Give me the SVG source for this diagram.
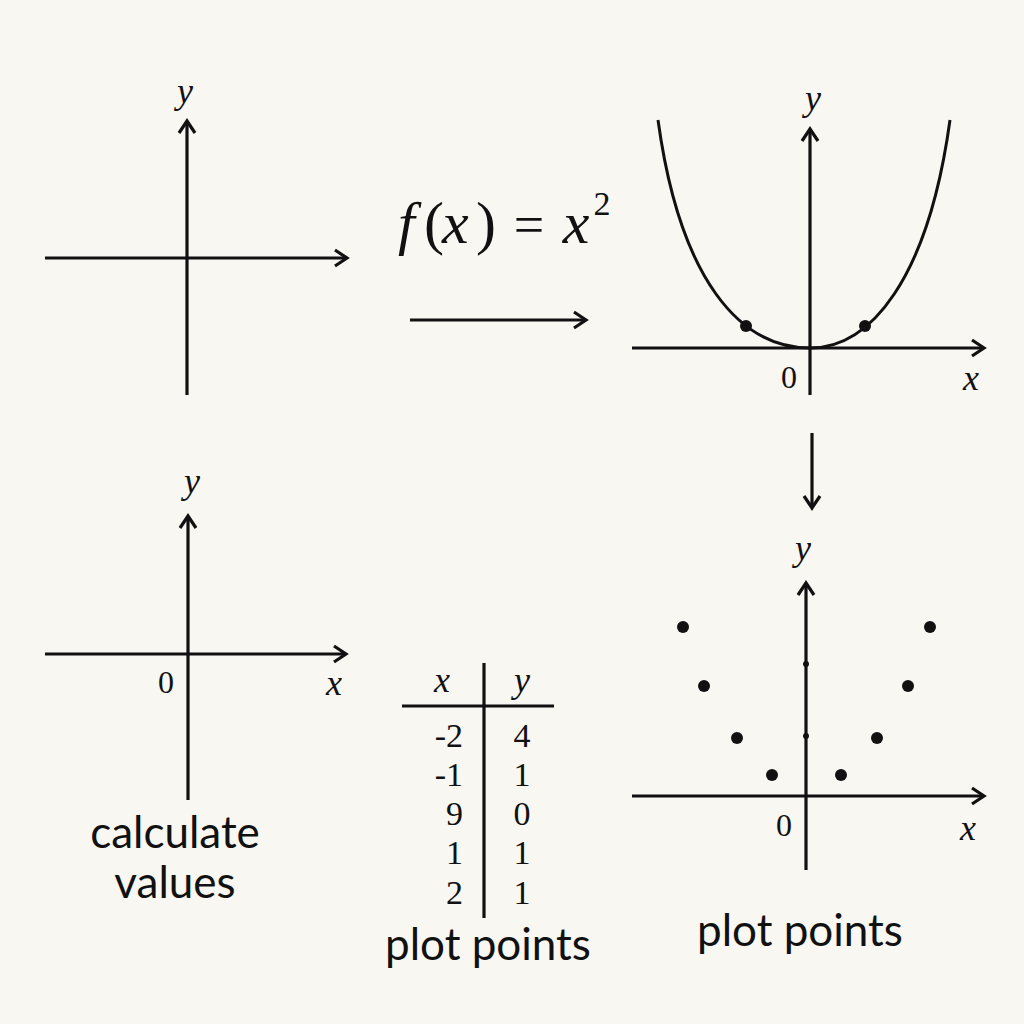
<svg xmlns="http://www.w3.org/2000/svg" width="1024" height="1024" viewBox="0 0 1024 1024">
<style>
.ax{stroke:#111;stroke-width:3.2;fill:none;stroke-linecap:butt}
.cv{stroke:#111;stroke-width:3;fill:none}
.it{font-family:"Liberation Serif","DejaVu Serif",serif;font-style:italic;fill:#111}
.nm{font-family:"Liberation Serif","DejaVu Serif",serif;fill:#111}
.lb{font-family:Lato,"Noto Sans","Liberation Sans",sans-serif;fill:#111;font-size:44px;text-anchor:middle}
.dt{fill:#111}
</style>
<defs>
<marker id="ah" viewBox="0 0 20 20" refX="17" refY="10" markerWidth="20" markerHeight="20" markerUnits="userSpaceOnUse" orient="auto">
<path d="M5,2 L17,10 L5,18" fill="none" stroke="#111" stroke-width="3.2"/>
</marker>
</defs>
<rect width="1024" height="1024" fill="#f9f7f2"/>

<g id="graph-empty">
<line class="ax" x1="45" y1="258" x2="347" y2="258" marker-end="url(#ah)"/>
<line class="ax" x1="187" y1="395" x2="187" y2="121" marker-end="url(#ah)"/>
<text class="it" x="185" y="103" font-size="36" text-anchor="middle">y</text>
</g>

<g id="formula" font-size="60">
<text class="it" x="398" y="243">f</text>
<text class="nm" x="424" y="243">(</text>
<text class="it" x="442" y="243">x</text>
<text class="nm" x="476" y="243">)</text>
<text class="nm" x="529" y="243" font-size="54" text-anchor="middle">=</text>
<text class="it" x="576" y="243" text-anchor="middle">x</text>
<text class="nm" x="602" y="215" font-size="34" text-anchor="middle">2</text>
</g>

<g id="graph-parabola">
<line class="ax" x1="632" y1="348" x2="984" y2="348" marker-end="url(#ah)"/>
<line class="ax" x1="810" y1="395" x2="810" y2="129" marker-end="url(#ah)"/>
<path class="cv" d="M658,120 C680,280 740,348 810,348 C870,348 928,280 950,120"/>
<circle class="dt" cx="746" cy="326" r="6"/>
<circle class="dt" cx="865" cy="326" r="6"/>
<text class="it" x="813" y="110" font-size="36" text-anchor="middle">y</text>
<text class="nm" x="789" y="388" font-size="32" text-anchor="middle">0</text>
<text class="it" x="971" y="390" font-size="36" text-anchor="middle">x</text>
</g>

<g id="graph-axes">
<line class="ax" x1="45" y1="654" x2="346" y2="654" marker-end="url(#ah)"/>
<line class="ax" x1="188" y1="800" x2="188" y2="516" marker-end="url(#ah)"/>
<text class="it" x="192" y="493" font-size="36" text-anchor="middle">y</text>
<text class="nm" x="166" y="693" font-size="32" text-anchor="middle">0</text>
<text class="it" x="334" y="695" font-size="36" text-anchor="middle">x</text>
<text class="lb" x="175" y="848">calculate</text>
<text class="lb" x="175" y="898">values</text>
</g>

<g id="table">
<line class="ax" x1="484" y1="663" x2="484" y2="918"/>
<line class="ax" x1="402" y1="706" x2="554" y2="706"/>
<text class="it" x="442" y="692" font-size="36" text-anchor="middle">x</text>
<text class="it" x="522" y="692" font-size="36" text-anchor="middle">y</text>
<g class="nm" font-size="34">
<text x="463" y="747" text-anchor="end">-2</text>
<text x="463" y="786" text-anchor="end">-1</text>
<text x="463" y="825" text-anchor="end">9</text>
<text x="463" y="864" text-anchor="end">1</text>
<text x="463" y="904" text-anchor="end">2</text>
<text x="522" y="747" text-anchor="middle">4</text>
<text x="522" y="786" text-anchor="middle">1</text>
<text x="522" y="825" text-anchor="middle">0</text>
<text x="522" y="864" text-anchor="middle">1</text>
<text x="522" y="904" text-anchor="middle">1</text>
</g>
<text class="lb" x="488" y="960">plot points</text>
</g>

<g id="graph-points">
<line class="ax" x1="632" y1="796" x2="984" y2="796" marker-end="url(#ah)"/>
<line class="ax" x1="806" y1="870" x2="806" y2="583" marker-end="url(#ah)"/>
<circle class="dt" cx="806" cy="664" r="3"/>
<circle class="dt" cx="806" cy="736" r="3"/>
<circle class="dt" cx="683" cy="627" r="6"/>
<circle class="dt" cx="704" cy="686" r="6"/>
<circle class="dt" cx="737" cy="738" r="6"/>
<circle class="dt" cx="772" cy="775" r="6"/>
<circle class="dt" cx="841" cy="775" r="6"/>
<circle class="dt" cx="877" cy="738" r="6"/>
<circle class="dt" cx="908" cy="686" r="6"/>
<circle class="dt" cx="930" cy="627" r="6"/>
<text class="it" x="803" y="560" font-size="36" text-anchor="middle">y</text>
<text class="nm" x="784" y="836" font-size="32" text-anchor="middle">0</text>
<text class="it" x="968" y="840" font-size="36" text-anchor="middle">x</text>
<text class="lb" x="800" y="946">plot points</text>
</g>

<g id="connectors">
<line class="ax" x1="410" y1="320" x2="586" y2="320" marker-end="url(#ah)"/>
<line class="ax" x1="812" y1="433" x2="812" y2="508" marker-end="url(#ah)"/>
</g>
</svg>
